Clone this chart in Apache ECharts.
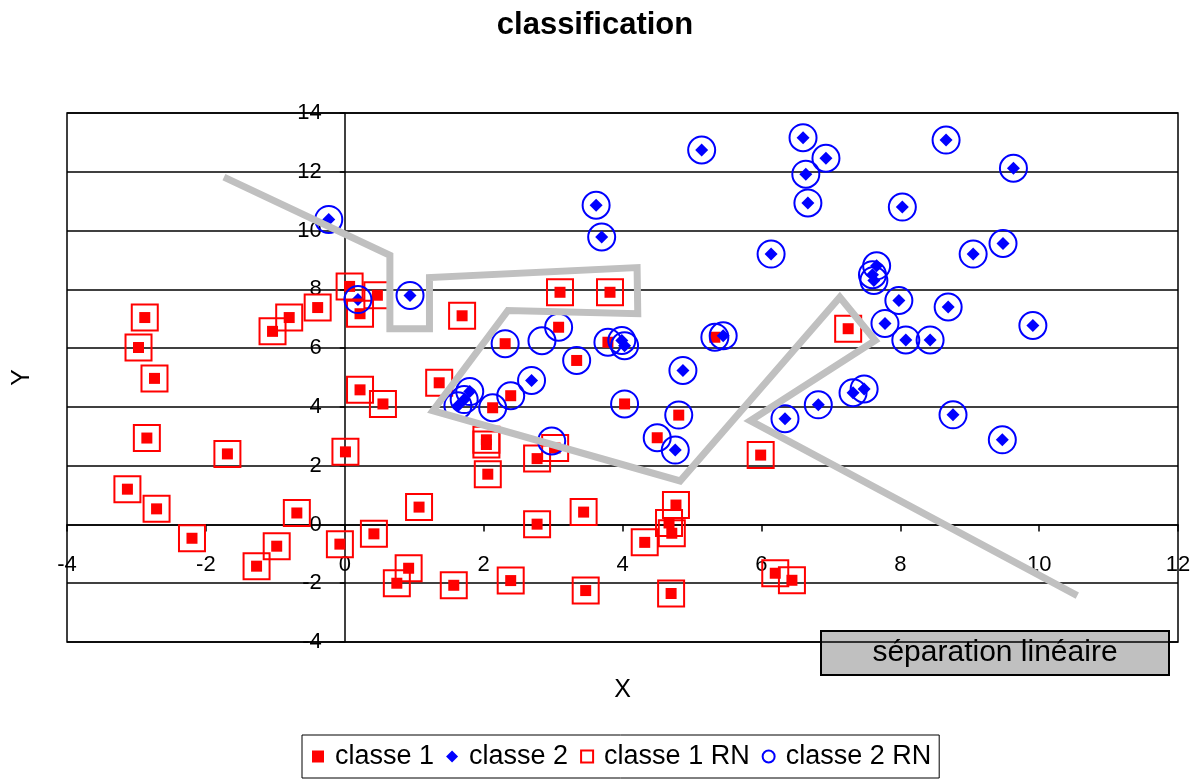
<!DOCTYPE html>
<html>
<head>
<meta charset="utf-8">
<script src="https://cdn.jsdelivr.net/npm/echarts@6/dist/echarts.min.js"></script>
<style>html,body{margin:0;padding:0;background:#fff}#c{width:1190px;height:779px}</style>
</head>
<body>
<div id="c"></div>
<script>
// ---- data ----
const seriesNames = ['classe 1', 'classe 2', 'classe 1 RN', 'classe 2 RN'];
const xTicks = [-4, 12, 2];   // min, max, step
const yTicks = [-4, 14, 2];

// classe 1 (true class 1 points)
const classe1 = [
  [0.07, 8.1], [0.47, 7.8], [0.22, 7.17], [-0.39, 7.38], [-0.8, 7.04], [-1.04, 6.57],
  [-2.88, 7.04], [-2.97, 6.02], [1.69, 7.1], [-2.74, 4.97], [0.22, 4.58], [0.55, 4.1],
  [1.36, 4.82], [-2.85, 2.94], [-1.69, 2.4], [0.01, 2.47], [-3.13, 1.2], [-2.71, 0.53],
  [-2.2, -0.47], [-0.69, 0.39], [-0.98, -0.74], [-1.27, -1.42], [-0.07, -0.67], [0.42, -0.32],
  [1.07, 0.59], [0.92, -1.49], [0.75, -2.0], [1.57, -2.07], [2.77, 0.01], [3.44, 0.42],
  [2.39, -1.91], [3.47, -2.25], [4.32, -0.61], [4.77, 0.66], [4.67, 0.05], [4.71, -0.3],
  [4.7, -2.35], [6.2, -1.66], [6.44, -1.9], [5.99, 2.36], [2.06, 1.71], [2.77, 2.24],
  [2.04, 2.88], [2.04, 2.72], [3.03, 2.6], [3.1, 7.9], [3.82, 7.9], [7.25, 6.66],
  [3.08, 6.71], [2.31, 6.15], [3.34, 5.58], [3.79, 6.2], [5.33, 6.37], [2.39, 4.38],
  [2.13, 3.97], [4.03, 4.1], [4.81, 3.72], [4.5, 2.95]
];

// classe 2 (true class 2 points)
const classe2 = [
  [-0.23, 10.38], [0.19, 7.65], [0.94, 7.79], [1.8, 4.52], [1.63, 4.04], [1.72, 4.25],
  [2.69, 4.9], [3.99, 6.26], [4.03, 6.08], [5.45, 6.42], [4.87, 5.24], [4.76, 2.53],
  [6.34, 3.6], [6.82, 4.07], [7.32, 4.48], [7.48, 4.61], [5.14, 12.74], [6.6, 13.16],
  [6.93, 12.46], [6.64, 11.92], [6.67, 10.94], [3.62, 10.86], [3.7, 9.78], [6.14, 9.2],
  [8.66, 13.08], [9.63, 12.12], [8.03, 10.8], [9.05, 9.2], [9.48, 9.56], [7.66, 8.8],
  [7.6, 8.5], [7.62, 8.3], [7.98, 7.62], [8.69, 7.4], [7.78, 6.84], [8.08, 6.28],
  [8.43, 6.28], [9.91, 6.77], [8.76, 3.73], [9.47, 2.88]
];

// network output: classified as class 1
const classe1RN = [
  [0.07, 8.1], [0.47, 7.8], [0.22, 7.17], [-0.39, 7.38], [-0.8, 7.04], [-1.04, 6.57],
  [-2.88, 7.04], [-2.97, 6.02], [1.69, 7.1], [-2.74, 4.97], [0.22, 4.58], [0.55, 4.1],
  [1.36, 4.82], [-2.85, 2.94], [-1.69, 2.4], [0.01, 2.47], [-3.13, 1.2], [-2.71, 0.53],
  [-2.2, -0.47], [-0.69, 0.39], [-0.98, -0.74], [-1.27, -1.42], [-0.07, -0.67], [0.42, -0.32],
  [1.07, 0.59], [0.92, -1.49], [0.75, -2.0], [1.57, -2.07], [2.77, 0.01], [3.44, 0.42],
  [2.39, -1.91], [3.47, -2.25], [4.32, -0.61], [4.77, 0.66], [4.67, 0.05], [4.71, -0.3],
  [4.7, -2.35], [6.2, -1.66], [6.44, -1.9], [5.99, 2.36], [2.06, 1.71], [2.77, 2.24],
  [2.04, 2.88], [2.04, 2.72], [3.03, 2.6], [3.1, 7.9], [3.82, 7.9], [7.25, 6.66]
];

// network output: classified as class 2
const classe2RN = [
  [3.08, 6.71], [2.31, 6.15], [3.34, 5.58], [3.79, 6.2], [5.33, 6.37], [2.39, 4.38],
  [2.13, 3.97], [4.03, 4.1], [4.81, 3.72], [4.5, 2.95], [2.84, 6.25], [2.98, 2.84],
  [-0.23, 10.38], [0.19, 7.65], [0.94, 7.79], [1.8, 4.52], [1.63, 4.04], [1.72, 4.25],
  [2.69, 4.9], [3.99, 6.26], [4.03, 6.08], [5.45, 6.42], [4.87, 5.24], [4.76, 2.53],
  [6.34, 3.6], [6.82, 4.07], [7.32, 4.48], [7.48, 4.61], [5.14, 12.74], [6.6, 13.16],
  [6.93, 12.46], [6.64, 11.92], [6.67, 10.94], [3.62, 10.86], [3.7, 9.78], [6.14, 9.2],
  [8.66, 13.08], [9.63, 12.12], [8.03, 10.8], [9.05, 9.2], [9.48, 9.56], [7.66, 8.8],
  [7.6, 8.5], [7.62, 8.3], [7.98, 7.62], [8.69, 7.4], [7.78, 6.84], [8.08, 6.28],
  [8.43, 6.28], [9.91, 6.77], [8.76, 3.73], [9.47, 2.88]
];

// separation boundary polyline
const separation = [
  [-1.74, 11.82], [0.65, 9.16], [0.65, 6.66], [1.22, 6.66], [1.22, 8.4], [4.21, 8.74],
  [4.22, 7.17], [2.35, 7.28], [1.27, 3.87], [4.83, 1.48], [7.13, 7.73], [7.64, 6.26],
  [5.84, 3.53], [10.55, -2.42]
];

const FONT = '"Liberation Sans", Arial, sans-serif';
const W = 1190, H = 779;
const G = { left: 67, right: 12, top: 113, bottom: 137 };
const gw = W - G.left - G.right, gh = H - G.top - G.bottom;
// axes cross at zero (Excel style): shift axes to the zero position of the other axis
const xAxisOffset = -gh * (0 - yTicks[0]) / (yTicks[1] - yTicks[0]);
const yAxisOffset = -gw * (0 - xTicks[0]) / (xTicks[1] - xTicks[0]);

const chart = echarts.init(document.getElementById('c'));
chart.setOption({
  animation: false,
  backgroundColor: '#fff',
  title: {
    text: 'classification', left: 'center', top: 5,
    textStyle: { fontFamily: FONT, fontSize: 31, fontWeight: 'bold', color: '#000' }
  },
  grid: Object.assign({ show: true, borderColor: '#000', borderWidth: 1.5, backgroundColor: '#fff',
    containLabel: false, outerBoundsMode: 'none' }, G),
  legend: {
    left: 302, top: 735, orient: 'horizontal',
    borderColor: '#000', borderWidth: 1, padding: [8, 8, 8, 10], itemGap: 12,
    itemWidth: 12, itemHeight: 12,
    textStyle: { fontFamily: FONT, fontSize: 27, color: '#000', padding: [0, 0, 0, 6] },
    data: [
      { name: seriesNames[0], icon: 'rect', itemStyle: { color: '#ff0000', borderWidth: 0 } },
      { name: seriesNames[1], icon: 'diamond', itemStyle: { color: '#0000ff', borderWidth: 0 } },
      { name: seriesNames[2], icon: 'rect', itemStyle: { color: 'rgba(0,0,0,0)', borderColor: '#ff0000', borderWidth: 2 } },
      { name: seriesNames[3], icon: 'circle', itemStyle: { color: 'rgba(0,0,0,0)', borderColor: '#0000ff', borderWidth: 2 } }
    ]
  },
  xAxis: {
    type: 'value', min: xTicks[0], max: xTicks[1], interval: xTicks[2],
    offset: xAxisOffset,
    name: 'X', nameLocation: 'middle', nameGap: 153,
    nameTextStyle: { fontFamily: FONT, fontSize: 25, color: '#000' },
    axisLine: { onZero: false, lineStyle: { color: '#000', width: 1.5 } },
    axisTick: { show: true, length: 7, lineStyle: { color: '#000', width: 1.5 } },
    axisLabel: { margin: 29, fontFamily: FONT, fontSize: 22, color: '#000' },
    splitLine: { show: false }
  },
  yAxis: {
    type: 'value', min: yTicks[0], max: yTicks[1], interval: yTicks[2],
    offset: yAxisOffset,
    name: 'Y', nameLocation: 'middle', nameGap: 310, nameRotate: 90,
    nameTextStyle: { fontFamily: FONT, fontSize: 25, color: '#000' },
    axisLine: { onZero: false, lineStyle: { color: '#000', width: 1.5 } },
    axisTick: { show: true, length: 5, lineStyle: { color: '#000', width: 1.5 } },
    axisLabel: { margin: 23, fontFamily: FONT, fontSize: 22, color: '#000' },
    splitLine: { show: true, lineStyle: { color: '#000', width: 1.5 } }
  },
  series: [
    { name: seriesNames[0], type: 'scatter', data: classe1, symbol: 'rect', symbolSize: 11,
      itemStyle: { color: '#ff0000', opacity: 1 }, z: 3 },
    { name: seriesNames[1], type: 'scatter', data: classe2, symbol: 'diamond', symbolSize: 13,
      itemStyle: { color: '#0000ff', opacity: 1 }, z: 3 },
    { name: seriesNames[2], type: 'scatter', data: classe1RN, symbol: 'rect', symbolSize: 26,
      itemStyle: { color: 'rgba(0,0,0,0)', borderColor: '#ff0000', borderWidth: 2, opacity: 1 }, z: 4 },
    { name: seriesNames[3], type: 'scatter', data: classe2RN, symbol: 'circle', symbolSize: 27,
      itemStyle: { color: 'rgba(0,0,0,0)', borderColor: '#0000ff', borderWidth: 2, opacity: 1 }, z: 4 },
    { name: 'séparation', type: 'line', data: separation, symbol: 'none', z: 5,
      lineStyle: { color: '#c0c0c0', width: 7, join: 'miter' }, silent: true }
  ],
  graphic: [{
    type: 'group', left: 820, top: 630, z: 100,
    children: [
      { type: 'rect', shape: { x: 0, y: 0, width: 348, height: 44 },
        style: { fill: '#c0c0c0', stroke: '#000', lineWidth: 2 } },
      { type: 'text', x: 174, y: 22,
        style: { text: 'séparation linéaire', fontFamily: FONT, fontSize: 30, fill: '#000', align: 'center', verticalAlign: 'middle' } }
    ]
  }]
});
</script>
</body>
</html>
